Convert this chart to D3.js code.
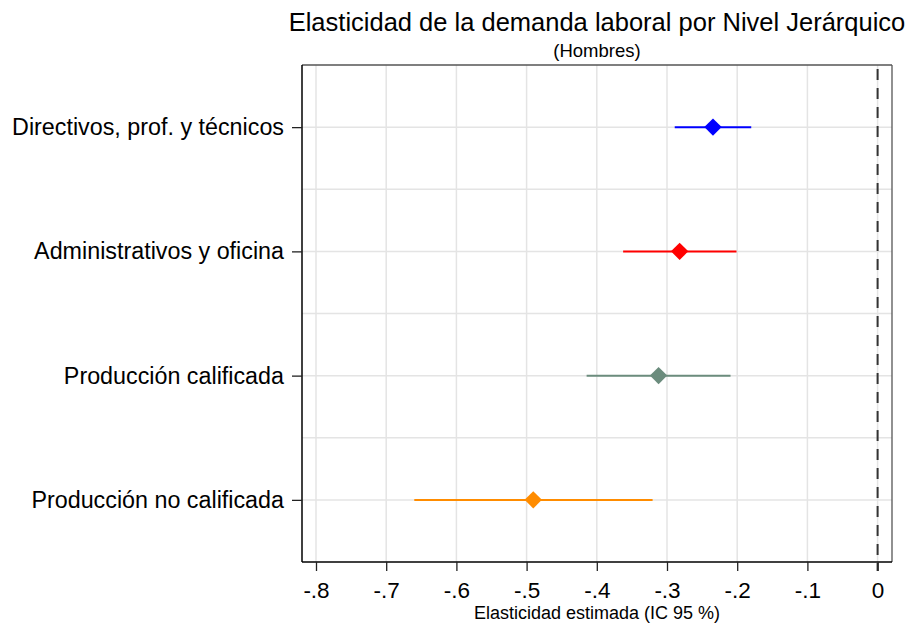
<!DOCTYPE html>
<html>
<head>
<meta charset="utf-8">
<script src="https://cdn.jsdelivr.net/npm/d3@7"></script>
<style>
  body { margin: 0; background: #fff; }
  svg { display: block; font-family: "Liberation Sans", Arial, sans-serif; }
</style>
</head>
<body>
<svg id="chart" width="912" height="624"></svg>
<script>
const categories = ["Directivos, prof. y técnicos", "Administrativos y oficina", "Producción calificada", "Producción no calificada"];
const estimates = [-0.2345, -0.282, -0.312, -0.4905];
const lowerCI = [-0.289, -0.3625, -0.4145, -0.660];
const upperCI = [-0.180, -0.201, -0.2095, -0.3205];
const colors = ["#0000ff", "#ff0000", "#6b8c7d", "#ff8c00"];
const xTicks = [-0.8, -0.7, -0.6, -0.5, -0.4, -0.3, -0.2, -0.1, 0];
const xTickLabels = ["-.8", "-.7", "-.6", "-.5", "-.4", "-.3", "-.2", "-.1", "0"];
const title = "Elasticidad de la demanda laboral por Nivel Jerárquico";
const subtitle = "(Hombres)";
const xTitle = "Elasticidad estimada (IC 95 %)";

const svg = d3.select("#chart");
const margin = { left: 302, right: 20, top: 65, bottom: 62 };
const W = 912, H = 624;
const x0 = margin.left, x1 = W - margin.right, y0 = margin.top, y1 = H - margin.bottom;

const x = d3.scaleLinear().domain([-0.8, 0]).range([316, 877.6]);
const y = d3.scaleLinear().domain([0.5, 4.5]).range([y0, y1]);
const catPos = categories.map((c, i) => i + 1);

// Gridlines
const grid = svg.append("g");
grid.selectAll("line.vx").data(xTicks).join("line")
  .attr("x1", d => x(d)).attr("x2", d => x(d))
  .attr("y1", y0).attr("y2", y1)
  .attr("stroke", "#e4e4e4").attr("stroke-width", 1.5);
const yGrid = [];
for (let v = 1; v <= 4; v += 0.5) yGrid.push(v);
grid.selectAll("line.hy").data(yGrid).join("line")
  .attr("x1", x0).attr("x2", x1)
  .attr("y1", d => y(d)).attr("y2", d => y(d))
  .attr("stroke", "#e4e4e4").attr("stroke-width", 1.5);

// Frame top/right
svg.append("line").attr("x1", x0).attr("x2", x1).attr("y1", y0).attr("y2", y0)
  .attr("stroke", "#555").attr("stroke-width", 1.3);
svg.append("line").attr("x1", x1).attr("x2", x1).attr("y1", y0).attr("y2", y1)
  .attr("stroke", "#555").attr("stroke-width", 1.3);

// Reference line at 0
svg.append("line").attr("x1", x(0)).attr("x2", x(0)).attr("y1", y0).attr("y2", y1 + 9)
  .attr("stroke", "#333").attr("stroke-width", 2).attr("stroke-dasharray", "11,8")
  .attr("stroke-dashoffset", -4);

// X axis
const xAxis = d3.axisBottom(x).tickValues(xTicks)
  .tickFormat((d, i) => xTickLabels[i]).tickSize(9).tickSizeOuter(0).tickPadding(11);
const gx = svg.append("g").attr("transform", `translate(0,${y1})`).call(xAxis);
gx.select(".domain").attr("d", `M${x0},0H${x1}`).attr("stroke", "#000").attr("stroke-width", 1.5);
gx.selectAll(".tick line").attr("stroke", "#222").attr("stroke-width", 1.3);
gx.selectAll(".tick text").attr("font-size", 22.5).attr("fill", "#000")
  .attr("font-family", "Liberation Sans, Arial, sans-serif");

// Y axis
const yAxis = d3.axisLeft(y).tickValues(catPos)
  .tickFormat((d, i) => categories[i]).tickSize(10).tickSizeOuter(0).tickPadding(8);
const gy = svg.append("g").attr("transform", `translate(${x0},0)`).call(yAxis);
gy.select(".domain").attr("d", `M0,${y0}V${y1}`).attr("stroke", "#000").attr("stroke-width", 1.5);
gy.selectAll(".tick line").attr("stroke", "#222").attr("stroke-width", 1.3);
gy.selectAll(".tick text").attr("font-size", 23.3).attr("fill", "#000")
  .attr("font-family", "Liberation Sans, Arial, sans-serif");

// CI lines
const data = categories.map((c, i) => ({ c, pos: catPos[i], est: estimates[i], lo: lowerCI[i], hi: upperCI[i], col: colors[i] }));
svg.append("g").selectAll("line").data(data).join("line")
  .attr("x1", d => x(d.lo)).attr("x2", d => x(d.hi))
  .attr("y1", d => y(d.pos)).attr("y2", d => y(d.pos))
  .attr("stroke", d => d.col).attr("stroke-width", 2);

// Diamonds
const sym = d3.symbol().type(d3.symbolSquare).size(150);
svg.append("g").selectAll("path").data(data).join("path")
  .attr("d", sym)
  .attr("transform", d => `translate(${x(d.est)},${y(d.pos)}) rotate(45)`)
  .attr("fill", d => d.col);

// Titles
const cx = (x0 + x1) / 2;
svg.append("text").attr("x", cx).attr("y", 31).attr("text-anchor", "middle")
  .attr("font-size", 25.5).attr("fill", "#000").text(title);
svg.append("text").attr("x", cx).attr("y", 57).attr("text-anchor", "middle")
  .attr("font-size", 18.5).attr("fill", "#000").text(subtitle);
svg.append("text").attr("x", cx).attr("y", 619).attr("text-anchor", "middle")
  .attr("font-size", 18).attr("fill", "#000").text(xTitle);
</script>
</body>
</html>
